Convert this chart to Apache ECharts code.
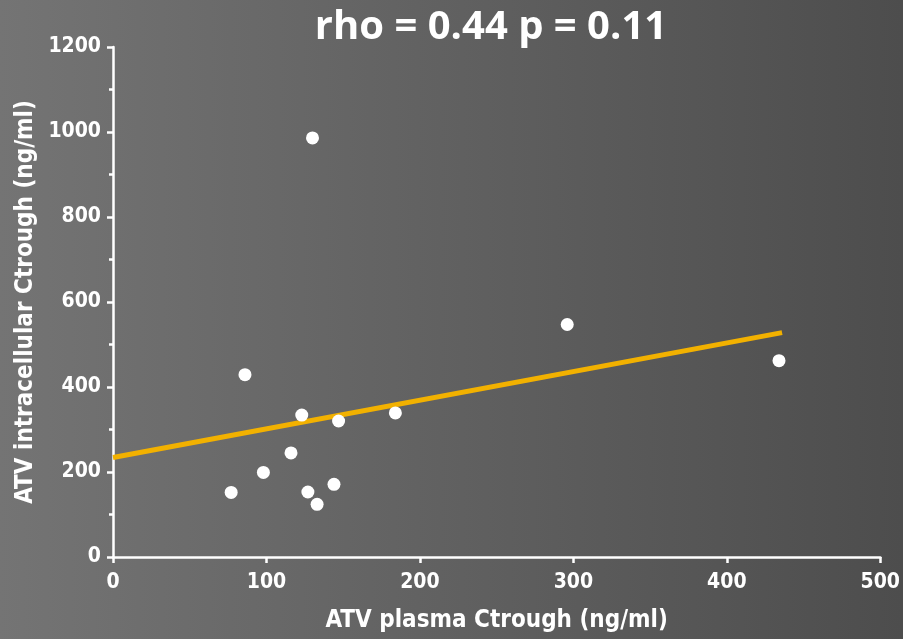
<!DOCTYPE html>
<html>
<head>
<meta charset="utf-8">
<script src="https://cdn.jsdelivr.net/npm/echarts@6/dist/echarts.min.js"></script>
<style>
  html, body { margin: 0; padding: 0; }
  #chart { width: 903px; height: 639px; }
</style>
</head>
<body>
<div id="chart"></div>
<script>
// plasma Ctrough (x) vs intracellular Ctrough (y), ng/ml
const plasmaValues = [130, 86, 123, 116, 98, 77, 127, 133, 144, 147, 184, 296, 434];
const cellValues = [986, 429, 334, 245, 199, 152, 153, 124, 171, 320, 339, 547, 462];
// fitted line end points
const fitX = [0, 436];
const fitY = [234, 528];
const xTicks = [0, 100, 200, 300, 400, 500];
const yTicks = [0, 200, 400, 600, 800, 1000, 1200];

const chart = echarts.init(document.getElementById("chart"));
const labelFont = "'Liberation Sans Narrow', 'DejaVu Sans Condensed', sans-serif";

const option = {
  backgroundColor: new echarts.graphic.LinearGradient(0, 0, 1, 0, [
    { offset: 0, color: "#747474" },
    { offset: 1, color: "#4d4d4d" },
  ]),
  animation: false,
  title: {
    text: "rho = 0.44 p = 0.11",
    left: 486,
    top: 3,
    textAlign: "center",
    textStyle: {
      color: "#fff",
      fontSize: 40,
      fontWeight: "bold",
      fontFamily: "'Open Sans', sans-serif",
    },
  },
  grid: {
    left: 113,
    right: 17,
    top: 47,
    bottom: 82,
  },
  xAxis: {
    type: "value",
    min: xTicks[0],
    max: xTicks[xTicks.length - 1],
    interval: 100,
    name: "ATV plasma Ctrough (ng/ml)",
    nameLocation: "middle",
    nameGap: 52,
    nameTextStyle: {
      color: "#fff",
      fontSize: 24,
      fontWeight: "bold",
      fontFamily: labelFont,
    },
    axisLine: { lineStyle: { color: "#fff", width: 2.5 } },
    axisTick: { show: true, length: 6, lineStyle: { color: "#fff", width: 2.5 } },
    axisLabel: {
      color: "#fff",
      fontSize: 21,
      fontWeight: "bold",
      fontFamily: labelFont,
      margin: 15,
      formatter: (v) => String(v),
    },
    splitLine: { show: false },
  },
  yAxis: {
    type: "value",
    min: yTicks[0],
    max: yTicks[yTicks.length - 1],
    interval: 200,
    name: "ATV intracellular Ctrough (ng/ml)",
    nameLocation: "middle",
    nameGap: 72,
    nameTextStyle: {
      color: "#fff",
      fontSize: 24,
      fontWeight: "bold",
      fontFamily: labelFont,
    },
    axisLine: { show: true, lineStyle: { color: "#fff", width: 2.5 } },
    axisTick: { show: true, length: 6, lineStyle: { color: "#fff", width: 2.5 } },
    minorTick: { show: true, splitNumber: 2, length: 4, lineStyle: { color: "#fff", width: 2.5 } },
    axisLabel: {
      color: "#fff",
      fontSize: 21,
      fontWeight: "bold",
      fontFamily: labelFont,
      margin: 12,
      formatter: (v) => String(v),
    },
    splitLine: { show: false },
  },
  series: [
    {
      type: "line",
      data: fitX.map((x, i) => [x, fitY[i]]),
      showSymbol: false,
      lineStyle: { color: "#f2b100", width: 5 },
      z: 1,
    },
    {
      type: "scatter",
      data: plasmaValues.map((x, i) => [x, cellValues[i]]),
      symbolSize: 13,
      itemStyle: { color: "#fff", opacity: 1 },
      z: 3,
    },
  ],
};

chart.setOption(option);
</script>
</body>
</html>
